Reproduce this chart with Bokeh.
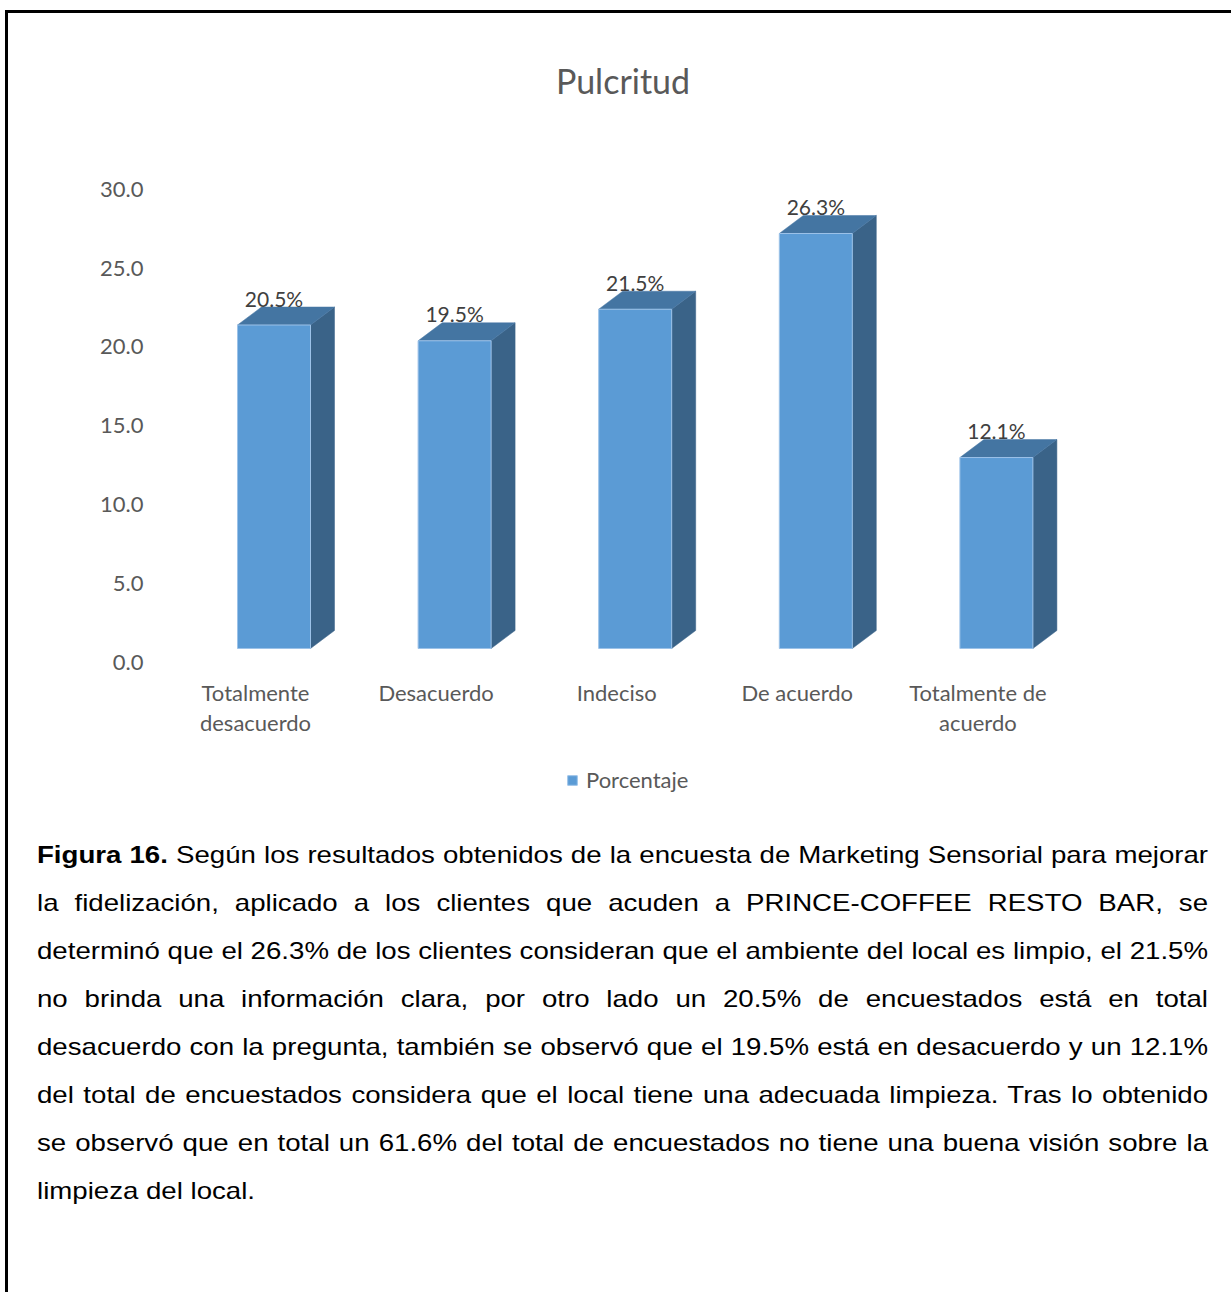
from bokeh.plotting import figure
from bokeh.models import (Range1d, LinearAxis, FixedTicker, NumeralTickFormatter,
                          ColumnDataSource, Legend, LegendItem, Div)
from bokeh.layouts import column
from bokeh.core.properties import value
from bokeh.embed import file_html
from bokeh.resources import INLINE

# ---------------- data ----------------
categories = ["Totalmente\ndesacuerdo", "Desacuerdo", "Indeciso", "De acuerdo", "Totalmente de\nacuerdo"]
porcentaje = [20.5, 19.5, 21.5, 26.3, 12.1]
y_ticks = [0, 5, 10, 15, 20, 25, 30]
title_text = "Pulcritud"
series_name = "Porcentaje"

caption_lines = [
    "<b>Figura 16.</b> Según los resultados obtenidos de la encuesta de Marketing Sensorial para mejorar",
    "la fidelización, aplicado a los clientes que acuden a PRINCE-COFFEE RESTO BAR, se",
    "determinó que el 26.3% de los clientes consideran que el ambiente del local es limpio, el 21.5%",
    "no brinda una información clara, por otro lado un 20.5% de encuestados está en total",
    "desacuerdo con la pregunta, también se observó que el 19.5% está en desacuerdo y un 12.1%",
    "del total de encuestados considera que el local tiene una adecuada limpieza. Tras lo obtenido",
    "se observó que en total un 61.6% del total de encuestados no tiene una buena visión sobre la",
    "limpieza del local.",
]

# ---------------- geometry (pixels) ----------------
PX_CAT = 180.6      # pixels per category
PX_VAL = 15.78      # pixels per value unit
FRAME_TOP, FRAME_BOTTOM = 40, 810          # page pixels
FRAME_W, FRAME_H = 1040, FRAME_BOTTOM - FRAME_TOP
HALF_W = 36.5 / PX_CAT
DEPTH_X = 24 / PX_CAT
DEPTH_Y = 18 / PX_VAL
AXIS_SHIFT = 14 / PX_VAL

x0 = -(273.5 - 160) / PX_CAT
y0 = -(FRAME_BOTTOM - 648) / PX_VAL

CHART_FONT = "Lato"
GREY = "#595959"

p = figure(frame_width=FRAME_W, frame_height=FRAME_H,
           min_border_left=152, min_border_right=31, min_border_top=FRAME_TOP - 13, min_border_bottom=5,
           x_range=Range1d(x0, x0 + FRAME_W / PX_CAT),
           y_range=Range1d(y0, y0 + FRAME_H / PX_VAL),
           x_axis_location=None, y_axis_location=None,
           toolbar_location=None, output_backend="svg",
           background_fill_color="white", border_fill_color="white")
p.outline_line_color = None
p.xgrid.visible = False
p.ygrid.visible = False

# value axis (shifted like the back wall of the 3-D chart)
p.extra_y_ranges = {"ax": Range1d(y0 + AXIS_SHIFT, y0 + AXIS_SHIFT + FRAME_H / PX_VAL)}
yax = LinearAxis(y_range_name="ax", ticker=FixedTicker(ticks=y_ticks),
                 formatter=NumeralTickFormatter(format="0.0"))
yax.axis_line_color = None
yax.major_tick_line_color = None
yax.minor_tick_line_color = None
yax.major_tick_out = 0
yax.major_label_standoff = 17
yax.major_label_text_font = CHART_FONT
yax.major_label_text_font_size = "22px"
yax.major_label_text_color = GREY
p.add_layout(yax, "left")

# chart title
ttl = ColumnDataSource(dict(x=[(622.5 - 273.5) / PX_CAT], y=[(648 - 80) / PX_VAL], t=[title_text]))
p.text(x="x", y="y", text="t", source=ttl, text_align="center", text_baseline="middle",
       text_font=value(CHART_FONT), text_font_size="34px", text_color=GREY)

# ---------------- 3-D bars ----------------
idx = list(range(len(porcentaje)))
front = ColumnDataSource(dict(left=[i - HALF_W for i in idx], right=[i + HALF_W for i in idx],
                              bottom=[0] * len(idx), top=porcentaje))
side_xs, side_ys, top_xs, top_ys = [], [], [], []
for i, v in zip(idx, porcentaje):
    r = i + HALF_W
    l = i - HALF_W
    side_xs.append([r, r + DEPTH_X, r + DEPTH_X, r])
    side_ys.append([0, DEPTH_Y, v + DEPTH_Y, v])
    top_xs.append([l, l + DEPTH_X, r + DEPTH_X, r])
    top_ys.append([v, v + DEPTH_Y, v + DEPTH_Y, v])

p.patches(side_xs, side_ys, fill_color="#3A6388", line_color="#3A6388", line_width=0.5)
p.patches(top_xs, top_ys, fill_color="#4475A2", line_color="#4475A2", line_width=0.5)
bars = p.quad(left="left", right="right", bottom="bottom", top="top", source=front,
              fill_color="#5B9BD5", line_color="#9CC2E8", line_width=1)

# data labels
lab = ColumnDataSource(dict(x=idx, y=[v + DEPTH_Y + 9 / PX_VAL for v in porcentaje],
                            t=[f"{v:.1f}%" for v in porcentaje]))
p.text(x="x", y="y", text="t", source=lab, text_align="center", text_baseline="alphabetic",
       text_font=value(CHART_FONT), text_font_size="21px", text_color="#404040")

# category labels
cat = ColumnDataSource(dict(x=[i - 18.5 / PX_CAT for i in idx],
                            y=[-(678 - 648) / PX_VAL] * len(idx), t=categories))
p.text(x="x", y="y", text="t", source=cat, text_align="center", text_baseline="top",
       text_line_height=1.14,
       text_font=value(CHART_FONT), text_font_size="22px", text_color=GREY)

# legend
legend = Legend(items=[LegendItem(label=series_name, renderers=[bars])],
                location=(406, 17), orientation="horizontal",
                glyph_width=12, glyph_height=12, label_standoff=8, label_height=20,
                label_text_font=CHART_FONT, label_text_font_size="22px", label_text_color=GREY,
                padding=0, margin=0, spacing=0, border_line_alpha=0, background_fill_alpha=0)
p.add_layout(legend)

# ---------------- caption ----------------
STRETCH = 1.151
rows = []
for k, line in enumerate(caption_lines):
    last = k == len(caption_lines) - 1
    align = "left" if last else "justify"
    rows.append(f'<div style="text-align:{align};text-align-last:{align};white-space:nowrap;">{line}</div>')
inner_w = 1171 / STRETCH
html = ('<div style="padding:16px 0 0 29px;">'
        f'<div style="width:{inner_w:.1f}px;transform:scaleX({STRETCH});transform-origin:0 0;'
        'font-family:\'Liberation Sans\',Arial,sans-serif;'
        'font-size:24px;line-height:48px;color:#000;">' + "".join(rows) + '</div></div>')
caption = Div(text=html, width=1223, height=477, margin=0)

layout = column(p, caption, spacing=0, margin=(10, 0, 0, 5),
                styles={"border-left": "3px solid #000", "border-top": "3px solid #000"})

open("out.html", "w").write(file_html(layout, INLINE))
